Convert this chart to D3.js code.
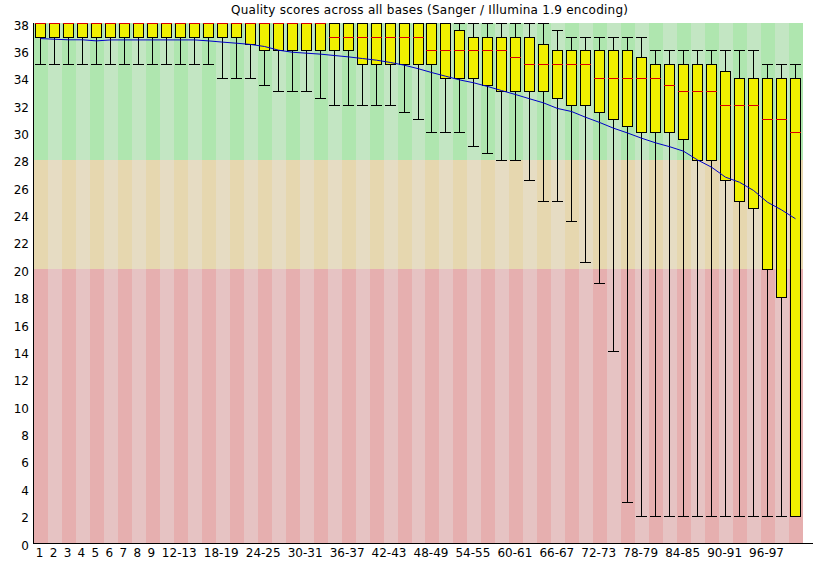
<!DOCTYPE html>
<html>
<head>
<meta charset="utf-8">
<script src="https://cdn.jsdelivr.net/npm/d3@7"></script>
<style>
  html, body { margin: 0; padding: 0; background: #fff; }
  svg { display: block; }
  text { font-family: "DejaVu Sans", sans-serif; font-size: 12px; fill: #000; }
</style>
</head>
<body>
<svg id="chart" width="813" height="561"></svg>
<script>
const title = "Quality scores across all bases (Sanger / Illumina 1.9 encoding)";

const categories = ["1","2","3","4","5","6","7","8","9",
  "10-11","12-13","14-15","16-17","18-19","20-21","22-23","24-25","26-27","28-29",
  "30-31","32-33","34-35","36-37","38-39","40-41","42-43","44-45","46-47","48-49",
  "50-51","52-53","54-55","56-57","58-59","60-61","62-63","64-65","66-67","68-69",
  "70-71","72-73","74-75","76-77","78-79","80-81","82-83","84-85","86-87","88-89",
  "90-91","92-93","94-95","96-97","98-99","100-101"];

const tickLabels = ["1","2","3","4","5","6","7","8","9","12-13","18-19","24-25",
  "30-31","36-37","42-43","48-49","54-55","60-61","66-67","72-73","78-79","84-85",
  "90-91","96-97"];

const yTicks = [0,2,4,6,8,10,12,14,16,18,20,22,24,26,28,30,32,34,36,38];

// 10th percentile (lower whisker)
const lowWhisker = [35,35,35,35,35,35,35,35,35,35,35,35,35,34,34,34,33.5,33,33,33,
  32.5,32,32,32,32,32,31.5,31,30,30,30,29,28.5,28,28,26.5,25,25,23.5,20.5,
  19,14,3,2,2,2,2,2,2,2,2,2,2,2,2];
// lower quartile
const lowerQuartile = [37,37,37,37,37,37,37,37,37,37,37,37,37,37,37,36.5,36,36,36,36,
  36,36,36,35,35,35,35,35,35,34,34,34,33.5,33,33,33,33,32.5,32,32,
  31.5,31,30.5,30,30,30,29.5,28,28,26.5,25,24.5,20,18,2];
// median
const median = [38,38,38,38,38,38,38,38,38,38,38,38,38,38,38,38,38,38,38,38,
  38,37,37,37,37,37,37,37,36,36,36,36,36,36,35.5,35,35,35,35,35,
  34,34,34,34,34,33.5,33,33,33,32,32,32,31,31,30];
// upper quartile
const upperQuartile = [38,38,38,38,38,38,38,38,38,38,38,38,38,38,38,38,38,38,38,38,
  38,38,38,38,38,38,38,38,38,38,37.5,37,37,37,37,37,36.5,36,36,36,
  36,36,36,35.5,35,35,35,35,35,34.5,34,34,34,34,34];
// 90th percentile (upper whisker)
const highWhisker = [38,38,38,38,38,38,38,38,38,38,38,38,38,38,38,38,38,38,38,38,
  38,38,38,38,38,38,38,38,38,38,38,38,38,38,38,38,38,37.5,37,37,
  37,37,37,37,36,36,36,36,36,36,36,36,35,35,35];
// mean
const mean = [36.9,36.85,36.81,36.81,36.73,36.8,36.8,36.8,36.8,36.8,36.8,36.8,36.73,36.64,36.56,36.47,36.32,36.05,35.9,35.83,
  35.76,35.66,35.56,35.44,35.32,35.15,34.95,34.69,34.42,34.15,33.88,33.67,33.4,33.1,32.81,32.5,32.2,31.79,31.57,31.15,
  30.77,30.35,30.0,29.62,29.28,29.0,28.67,28.03,27.5,26.77,26.4,25.8,24.94,24.38,23.73];

const zones = [
  {lo: 28, hi: 38, colors: ["rgb(175,230,175)", "rgb(195,230,195)"]},
  {lo: 20, hi: 28, colors: ["rgb(230,215,175)", "rgb(230,220,195)"]},
  {lo: 0,  hi: 20, colors: ["rgb(230,175,175)", "rgb(230,195,195)"]}
];

const svg = d3.select("#chart");
const W = 813, H = 561;
const mLeft = 34, mRight = 803, mTop = 23, mBottom = 543;

const x = d3.scaleBand().domain(categories).range([mLeft, mRight]).padding(0);
const y = d3.scaleLinear().domain([0, 38]).range([mBottom, mTop]);
const px = c => Math.round(x(c));
const py = v => Math.round(y(v));

// background stripes
const bg = svg.append("g").attr("shape-rendering", "crispEdges");
zones.forEach(z => {
  bg.selectAll(null).data(categories).enter().append("rect")
    .attr("x", c => px(c))
    .attr("width", (c, i) => (i === categories.length - 1 ? mRight : px(categories[i + 1])) - px(c))
    .attr("y", py(z.hi))
    .attr("height", py(z.lo) - py(z.hi))
    .attr("fill", (c, i) => z.colors[i % 2]);
});

const rows = categories.map((c, i) => ({
  c, low: lowWhisker[i], q1: lowerQuartile[i], med: median[i],
  q3: upperQuartile[i], high: highWhisker[i], mean: mean[i]
}));

const g = svg.append("g").attr("shape-rendering", "crispEdges");

// whiskers
g.selectAll(".wl").data(rows).enter().append("line")
  .attr("x1", d => px(d.c) + 6.5).attr("x2", d => px(d.c) + 6.5)
  .attr("y1", d => py(d.low)).attr("y2", d => py(d.q1))
  .attr("stroke", "#000");
g.selectAll(".wh").data(rows).enter().append("line")
  .attr("x1", d => px(d.c) + 6.5).attr("x2", d => px(d.c) + 6.5)
  .attr("y1", d => py(d.high)).attr("y2", d => py(d.q3))
  .attr("stroke", "#000");
g.selectAll(".cl").data(rows).enter().append("line")
  .attr("x1", d => px(d.c) + 1).attr("x2", d => px(d.c) + 12)
  .attr("y1", d => py(d.low) + 0.5).attr("y2", d => py(d.low) + 0.5)
  .attr("stroke", "#000");
g.selectAll(".ch").data(rows.filter(d => d.high > d.q3)).enter().append("line")
  .attr("x1", d => px(d.c) + 1).attr("x2", d => px(d.c) + 12)
  .attr("y1", d => py(d.high) + 0.5).attr("y2", d => py(d.high) + 0.5)
  .attr("stroke", "#000");

// boxes
g.selectAll(".box").data(rows).enter().append("rect")
  .attr("x", d => px(d.c) + 1.5)
  .attr("width", 10)
  .attr("y", d => py(d.q3) + 0.5)
  .attr("height", d => py(d.q1) - py(d.q3))
  .attr("fill", "rgb(240,240,0)")
  .attr("stroke", "#000");

// medians
g.selectAll(".med").data(rows).enter().append("line")
  .attr("x1", d => px(d.c) + 1).attr("x2", d => px(d.c) + 12)
  .attr("y1", d => py(d.med) + 0.5).attr("y2", d => py(d.med) + 0.5)
  .attr("stroke", "rgb(220,0,0)");

// mean line
const line = d3.line().x(d => px(d.c) + 6.5).y(d => y(d.mean) + 0.5);
svg.append("path").datum(rows).attr("d", line)
  .attr("fill", "none").attr("stroke", "rgb(0,0,200)").attr("stroke-width", 1);

// axes
const yAxis = d3.axisLeft(y).tickValues(yTicks).tickSize(0).tickPadding(0).tickFormat(d3.format("d"));
const ya = svg.append("g").attr("transform", `translate(${mLeft},0)`).call(yAxis);
ya.select(".domain").remove();
ya.selectAll("text").attr("x", -5).attr("dy", "0.5em").style("font-family", "DejaVu Sans").style("font-size", "12px");

const xAxis = d3.axisBottom(x).tickValues(tickLabels).tickSize(0).tickPadding(0);
const xa = svg.append("g").attr("transform", `translate(-1.5,${mBottom})`).call(xAxis);
xa.select(".domain").remove();
xa.selectAll("text").attr("y", 14).attr("dy", 0).style("font-family", "DejaVu Sans").style("font-size", "12px");

svg.append("line").attr("x1", mLeft - 0.5).attr("x2", mLeft - 0.5).attr("y1", mTop).attr("y2", mBottom + 0.5)
  .attr("stroke", "#000").attr("shape-rendering", "crispEdges");
svg.append("line").attr("x1", mLeft - 1).attr("x2", W).attr("y1", mBottom + 0.5).attr("y2", mBottom + 0.5)
  .attr("stroke", "#000").attr("shape-rendering", "crispEdges");

svg.append("text").attr("x", 231).attr("y", 13.5).attr("text-anchor", "start")
  .attr("textLength", 397).attr("lengthAdjust", "spacing").text(title);
</script>
</body>
</html>
